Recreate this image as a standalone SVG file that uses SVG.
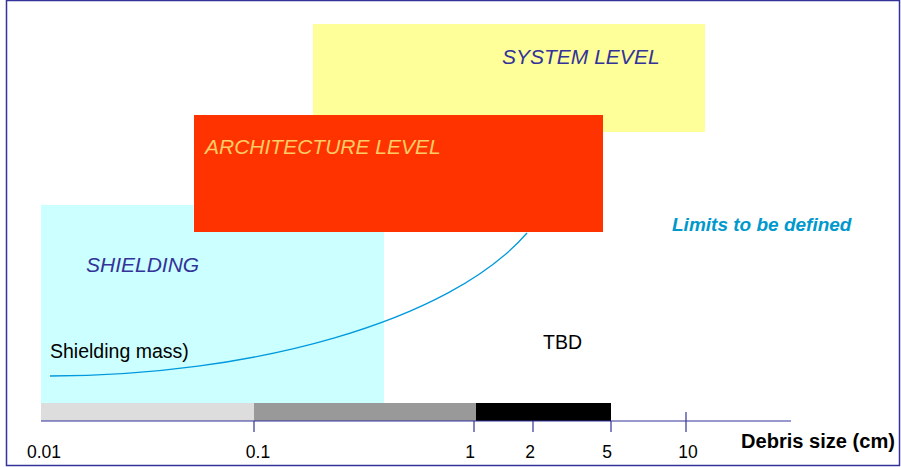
<svg xmlns="http://www.w3.org/2000/svg" width="901" height="467" viewBox="0 0 901 467">
<style>
.lvl{font-family:"Liberation Sans",Arial,sans-serif;font-style:italic;font-size:21px}
.ax{font-family:"Liberation Sans",Arial,sans-serif;font-size:17.5px;fill:#000}
.tick{stroke:#333399;stroke-width:1.2}
</style>
<rect x="0" y="0" width="901" height="467" fill="#fff"/>
<rect x="6.5" y="0.5" width="893" height="465" fill="none" stroke="#333399" stroke-width="1.5"/>
<g id="shielding">
<rect x="41" y="205" width="343" height="198" fill="#ccffff"/>
<text class="lvl" x="86" y="272" fill="#333399">SHIELDING</text>
</g>
<g id="system-level">
<rect x="313" y="24" width="392" height="108" fill="#ffff99"/>
<text class="lvl" x="502" y="64" fill="#333399">SYSTEM LEVEL</text>
</g>
<g id="architecture-level">
<rect x="194" y="115" width="409" height="117" fill="#ff3300"/>
<text class="lvl" x="205" y="154" fill="#ffcc66">ARCHITECTURE LEVEL</text>
</g>
<g id="connectors">
<path d="M50,376 C250,376 450,322 527,233" fill="none" stroke="#0099dd" stroke-width="1.3"/>
</g>
<g id="labels">
<text x="672" y="231" font-family="'Liberation Sans',Arial,sans-serif" font-size="19" font-weight="bold" font-style="italic" fill="#0099cc">Limits to be defined</text>
<text x="50" y="358" font-family="'Liberation Sans',Arial,sans-serif" font-size="19.5" fill="#000">Shielding mass)</text>
<text x="543" y="349" font-family="'Liberation Sans',Arial,sans-serif" font-size="19.5" fill="#000">TBD</text>
</g>
<g id="axis">
<rect x="41" y="403" width="213" height="18" fill="#dddddd"/>
<rect x="254" y="403" width="222" height="18" fill="#999999"/>
<rect x="476" y="403" width="135" height="18" fill="#000"/>
<line x1="41" y1="421" x2="791" y2="421" stroke="#333399" stroke-width="1.2"/>
<line class="tick" x1="254" y1="421" x2="254" y2="432"/>
<line class="tick" x1="474" y1="421" x2="474" y2="432"/>
<line class="tick" x1="533" y1="421" x2="533" y2="432"/>
<line class="tick" x1="611" y1="421" x2="611" y2="432"/>
<line class="tick" x1="686" y1="412" x2="686" y2="432"/>
<text class="ax" x="44" y="458" text-anchor="middle">0.01</text>
<text class="ax" x="258" y="458" text-anchor="middle">0.1</text>
<text class="ax" x="470" y="458" text-anchor="middle">1</text>
<text class="ax" x="530" y="458" text-anchor="middle">2</text>
<text class="ax" x="607" y="458" text-anchor="middle">5</text>
<text class="ax" x="688" y="458" text-anchor="middle">10</text>
<text x="741" y="448" font-family="'Liberation Sans',Arial,sans-serif" font-size="19.5" font-weight="bold" fill="#000" textLength="154" lengthAdjust="spacingAndGlyphs">Debris size (cm)</text>
</g>
</svg>
